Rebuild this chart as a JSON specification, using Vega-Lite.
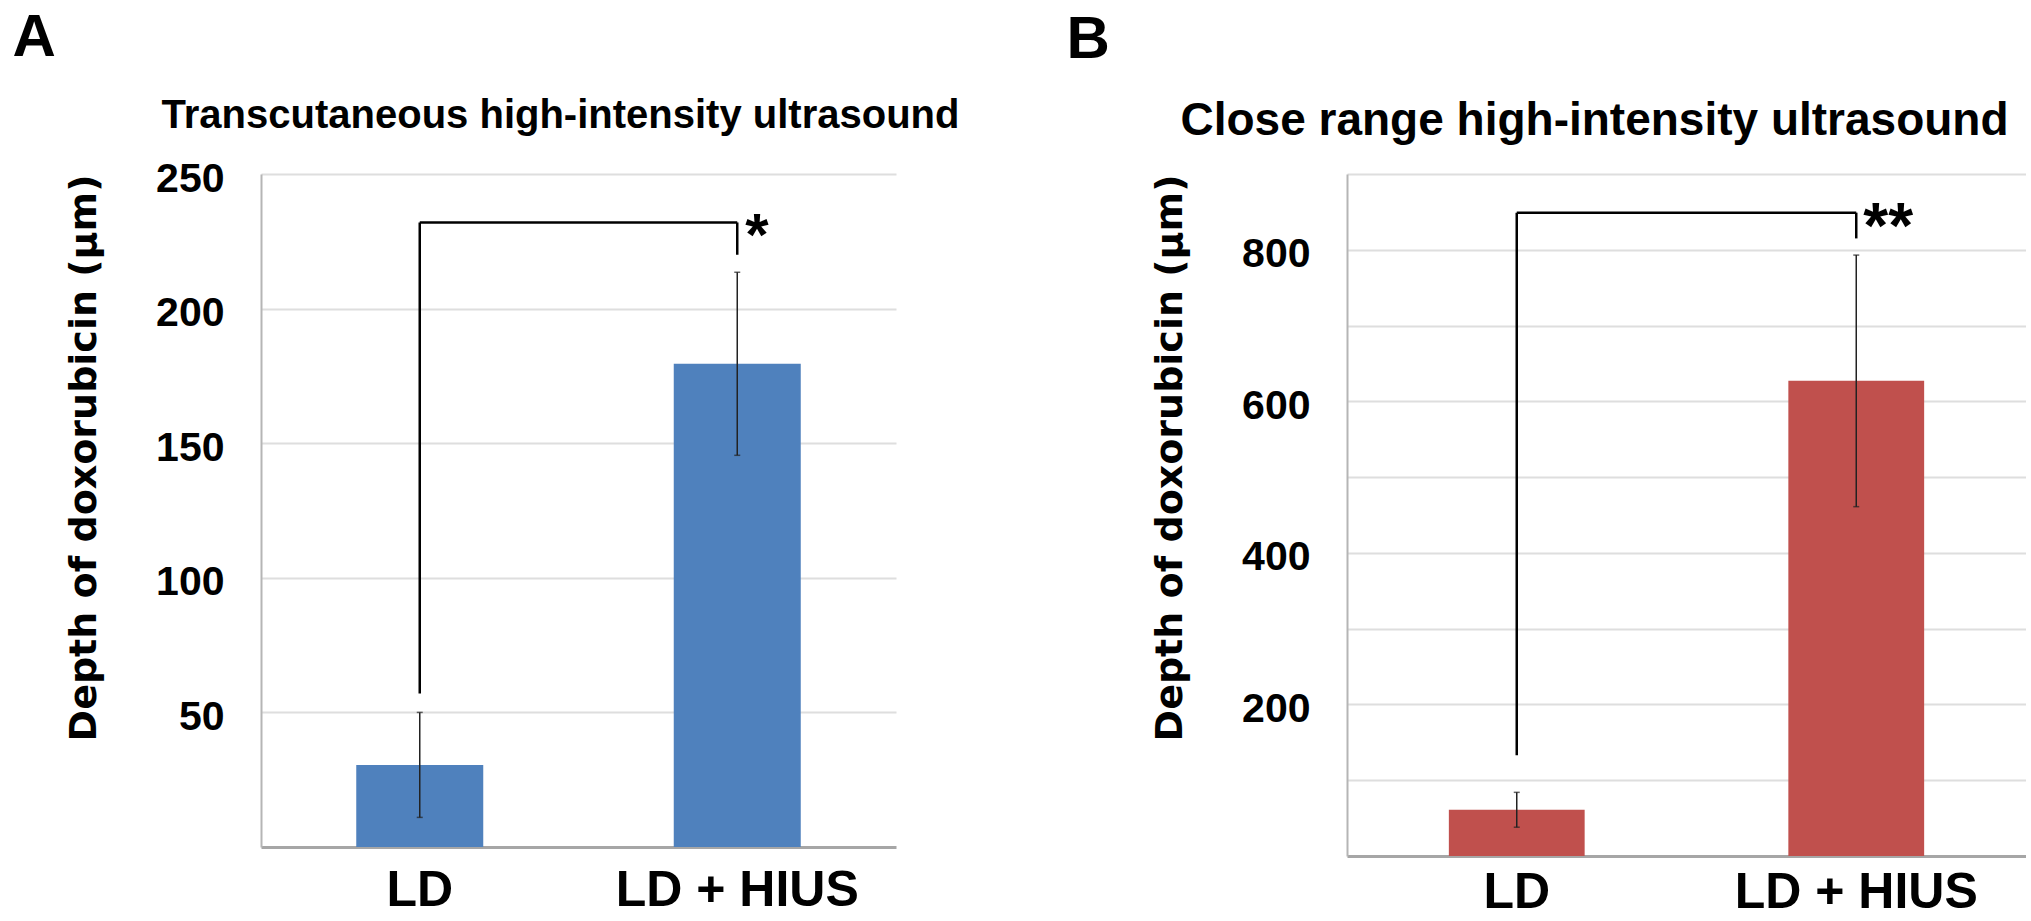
{
  "$schema": "https://vega.github.io/schema/vega-lite/v6.json",
  "background": "white",
  "padding": {"left": 12, "top": 8, "right": 0, "bottom": 0},
  "config": {"view": {"stroke": null}, "font": "Liberation Sans"},
  "datasets": {
    "barsA": [
      {"group": "LD", "mean": 30.5, "lo": 11, "hi": 50},
      {"group": "LD + HIUS", "mean": 179.5, "lo": 145.5, "hi": 213.5}
    ],
    "legsA": [
      {"group": "LD", "y": 57, "y2": 232},
      {"group": "LD + HIUS", "y": 220, "y2": 232}
    ],
    "spanA": [{"group": "LD", "group2": "LD + HIUS", "y": 232, "label": "*"}],
    "barsB": [
      {"group": "LD", "mean": 61, "lo": 38, "hi": 84},
      {"group": "LD + HIUS", "mean": 627, "lo": 461, "hi": 793}
    ],
    "legsB": [
      {"group": "LD", "y": 133, "y2": 849},
      {"group": "LD + HIUS", "y": 815, "y2": 849}
    ],
    "spanB": [{"group": "LD", "group2": "LD + HIUS", "y": 849, "label": "**"}]
  },
  "spacing": 106,
  "hconcat": [
    {
      "title": {"text": "A", "anchor": "start", "frame": "bounds", "fontSize": 60, "font": "Liberation Sans", "fontWeight": "bold", "color": "black", "dx": -53, "offset": 27},
      "hconcat": [
        {
          "width": 635,
          "height": 673,
          "title": {"text": "Transcutaneous high-intensity ultrasound", "fontSize": 40, "fontWeight": "bold", "font": "Liberation Sans", "color": "black", "anchor": "middle", "dx": -18, "dy": 3, "offset": 25},
          "encoding": {
            "x": {
              "field": "group", "type": "nominal", "sort": ["LD", "LD + HIUS"],
              "scale": {"domain": ["LD", "LD + HIUS"], "paddingInner": 0.6, "paddingOuter": 0.3},
              "axis": {"title": null, "labelAngle": 0, "labelFont": "Liberation Sans", "labelFontSize": 50, "labelFontWeight": "bold", "labelColor": "black", "labelPadding": 18, "labelLimit": 0, "ticks": false, "tickSize": 0, "domainColor": "#a6a6a6", "domainWidth": 3, "grid": false}
            }
          },
          "layer": [
            {
              "data": {"name": "barsA"},
              "mark": {"type": "bar", "color": "#4f81bd"},
              "encoding": {
                "y": {
                  "field": "mean", "type": "quantitative",
                  "scale": {"domain": [0, 250], "nice": false},
                  "axis": {"title": "Depth of doxorubicin (μm)", "titleFont": "DejaVu Sans", "titleFontSize": 38, "titleFontWeight": "bold", "titleColor": "black", "titleAnchor": "end", "titlePadding": 52, "values": [50, 100, 150, 200, 250], "labelFont": "Liberation Sans", "labelFontSize": 41, "labelFontWeight": "bold", "labelColor": "black", "labelPadding": 37, "labelOffset": 5, "ticks": false, "tickSize": 0, "domainColor": "#b5b5b5", "domainWidth": 2, "gridColor": "#dedede", "gridWidth": 2}
                }
              }
            },
            {
              "data": {"name": "barsA"},
              "mark": {"type": "rule", "color": "#222222", "strokeWidth": 1.5},
              "encoding": {"y": {"field": "lo", "type": "quantitative"}, "y2": {"field": "hi"}}
            },
            {
              "data": {"name": "barsA"},
              "mark": {"type": "tick", "color": "#222222", "thickness": 1.5, "size": 6},
              "encoding": {"y": {"field": "lo", "type": "quantitative"}}
            },
            {
              "data": {"name": "barsA"},
              "mark": {"type": "tick", "color": "#222222", "thickness": 1.5, "size": 6},
              "encoding": {"y": {"field": "hi", "type": "quantitative"}}
            },
            {
              "data": {"name": "legsA"},
              "mark": {"type": "rule", "color": "black", "strokeWidth": 2.5},
              "encoding": {"y": {"field": "y", "type": "quantitative"}, "y2": {"field": "y2"}}
            },
            {
              "data": {"name": "spanA"},
              "mark": {"type": "rule", "color": "black", "strokeWidth": 2.5},
              "encoding": {"x2": {"field": "group2"}, "y": {"field": "y", "type": "quantitative"}}
            },
            {
              "data": {"name": "spanA"},
              "mark": {"type": "text", "align": "left", "baseline": "alphabetic", "dx": 8, "dy": 33, "fontSize": 60, "fontWeight": "bold", "font": "Liberation Sans", "color": "black"},
              "encoding": {"x": {"field": "group2", "type": "nominal"}, "y": {"field": "y", "type": "quantitative"}, "text": {"field": "label"}}
            }
          ]
        }
      ]
    },
    {
      "title": {"text": "B", "anchor": "start", "frame": "bounds", "fontSize": 60, "font": "Liberation Sans", "fontWeight": "bold", "color": "black", "dx": -85, "offset": 27},
      "hconcat": [
        {
          "width": 679,
          "height": 682,
          "title": {"text": "Close range high-intensity ultrasound", "fontSize": 46, "fontWeight": "bold", "font": "Liberation Sans", "color": "black", "anchor": "middle", "dx": -92, "offset": 29},
          "encoding": {
            "x": {
              "field": "group", "type": "nominal", "sort": ["LD", "LD + HIUS"],
              "scale": {"domain": ["LD", "LD + HIUS"], "paddingInner": 0.6, "paddingOuter": 0.3},
              "axis": {"title": null, "labelAngle": 0, "labelFont": "Liberation Sans", "labelFontSize": 50, "labelFontWeight": "bold", "labelColor": "black", "labelPadding": 11, "labelLimit": 0, "ticks": false, "tickSize": 0, "domainColor": "#a6a6a6", "domainWidth": 3, "grid": false}
            }
          },
          "layer": [
            {
              "data": {"name": "barsB"},
              "mark": {"type": "bar", "color": "#c0504d"},
              "encoding": {
                "y": {
                  "field": "mean", "type": "quantitative",
                  "scale": {"domain": [0, 900], "nice": false},
                  "axis": {"title": "Depth of doxorubicin (μm)", "titleFont": "DejaVu Sans", "titleFontSize": 38, "titleFontWeight": "bold", "titleColor": "black", "titleAnchor": "end", "titlePadding": 52, "values": [100, 200, 300, 400, 500, 600, 700, 800, 900], "labelExpr": "datum.value % 200 == 0 ? datum.label : ''", "labelFont": "Liberation Sans", "labelFontSize": 41, "labelFontWeight": "bold", "labelColor": "black", "labelPadding": 37, "labelOffset": 5, "ticks": false, "tickSize": 0, "domainColor": "#b5b5b5", "domainWidth": 2, "gridColor": "#dedede", "gridWidth": 2}
                }
              }
            },
            {
              "data": {"name": "barsB"},
              "mark": {"type": "rule", "color": "#222222", "strokeWidth": 1.5},
              "encoding": {"y": {"field": "lo", "type": "quantitative"}, "y2": {"field": "hi"}}
            },
            {
              "data": {"name": "barsB"},
              "mark": {"type": "tick", "color": "#222222", "thickness": 1.5, "size": 6},
              "encoding": {"y": {"field": "lo", "type": "quantitative"}}
            },
            {
              "data": {"name": "barsB"},
              "mark": {"type": "tick", "color": "#222222", "thickness": 1.5, "size": 6},
              "encoding": {"y": {"field": "hi", "type": "quantitative"}}
            },
            {
              "data": {"name": "legsB"},
              "mark": {"type": "rule", "color": "black", "strokeWidth": 2.5},
              "encoding": {"y": {"field": "y", "type": "quantitative"}, "y2": {"field": "y2"}}
            },
            {
              "data": {"name": "spanB"},
              "mark": {"type": "rule", "color": "black", "strokeWidth": 2.5},
              "encoding": {"x2": {"field": "group2"}, "y": {"field": "y", "type": "quantitative"}}
            },
            {
              "data": {"name": "spanB"},
              "mark": {"type": "text", "align": "left", "baseline": "alphabetic", "dx": 7, "dy": 35, "fontSize": 64, "fontWeight": "bold", "font": "Liberation Sans", "color": "black"},
              "encoding": {"x": {"field": "group2", "type": "nominal"}, "y": {"field": "y", "type": "quantitative"}, "text": {"field": "label"}}
            }
          ]
        }
      ]
    }
  ]
}
